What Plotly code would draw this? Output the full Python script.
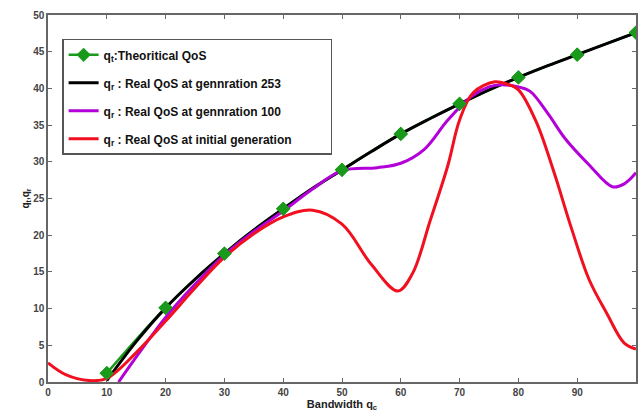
import plotly.graph_objects as go

# Theoretical QoS markers
theo_x = [10, 20, 30, 40, 50, 60, 70, 80, 90, 100]
theo_y = [1.2, 10.1, 17.5, 23.6, 28.9, 33.8, 37.9, 41.5, 44.6, 47.6]

# Real QoS at generation 253 (black)
g253_x = [10, 15, 20, 25, 30, 35, 40, 45, 50, 55, 60, 65, 70, 75, 80, 85, 90, 95, 100]
g253_y = [0.2, 5.5, 10.1, 14.0, 17.5, 20.7, 23.6, 26.4, 28.9, 31.4, 33.8, 35.9, 37.9, 39.8, 41.5, 43.1, 44.6, 46.1, 47.6]

# Real QoS at generation 100 (magenta)
g100_x = [12, 16, 20, 25, 30, 35, 40, 45, 50, 56, 60, 64, 68, 72, 75, 77, 80, 82, 85, 88, 92, 96, 98, 100]
g100_y = [0.0, 4.5, 8.8, 13.3, 17.3, 20.5, 23.3, 26.3, 28.8, 29.2, 29.8, 31.7, 35.7, 38.9, 40.2, 40.5, 40.2, 39.6, 36.6, 33.1, 29.6, 26.6, 27.0, 28.5]

# Real QoS at initial generation (red)
init_x = [0, 3, 7, 10, 15, 20, 25, 30, 35, 40, 45, 50, 55, 59.5, 62, 65, 68, 70, 72.3, 76, 78, 80, 83, 86, 89, 92, 95, 98, 100]
init_y = [2.6, 1.0, 0.2, 0.5, 4.0, 8.3, 12.8, 17.0, 20.2, 22.5, 23.4, 21.5, 16.0, 12.4, 14.8, 22.0, 29.5, 35.7, 39.4, 40.9, 40.6, 39.8, 35.5, 28.7, 21.0, 14.0, 9.4, 5.3, 4.5]

xticks = [0, 10, 20, 30, 40, 50, 60, 70, 80, 90, 100]
yticks = [0, 5, 10, 15, 20, 25, 30, 35, 40, 45, 50]

legend_names = [
    "<b>q<sub>t</sub>:Theoritical QoS</b>",
    "<b>q<sub>r</sub> : Real QoS at gennration 253</b>",
    "<b>q<sub>r</sub> : Real QoS at gennration 100</b>",
    "<b>q<sub>r</sub> : Real QoS at initial generation</b>" + "&nbsp;" * 10,
]

GREEN = "#1a9a1a"

fig = go.Figure()
fig.add_trace(go.Scatter(x=theo_x, y=theo_y, mode="lines+markers",
                         line=dict(color=GREEN, width=2.5, shape="spline"),
                         marker=dict(symbol="diamond", size=11, color=GREEN),
                         name=legend_names[0], legendrank=1, legendgroup="a"))
fig.add_trace(go.Scatter(x=g253_x, y=g253_y, mode="lines", line=dict(color="black", width=3, shape="spline"),
                         name=legend_names[1], legendrank=2, legendgroup="b"))
fig.add_trace(go.Scatter(x=g100_x, y=g100_y, mode="lines", line=dict(color="#b400d8", width=3, shape="spline"),
                         name=legend_names[2], legendrank=3, legendgroup="c"))
fig.add_trace(go.Scatter(x=init_x, y=init_y, mode="lines", line=dict(color="#f01020", width=3, shape="spline"),
                         name=legend_names[3], legendrank=4, legendgroup="d"))
fig.add_trace(go.Scatter(x=theo_x, y=theo_y, mode="markers",
                         marker=dict(symbol="diamond", size=11, color=GREEN),
                         showlegend=False, hoverinfo="skip"))

axis_common = dict(
    showline=True, linecolor="#666", linewidth=1.5, mirror="ticks",
    ticks="inside", ticklen=4, tickcolor="#666", showgrid=False, zeroline=False,
    automargin=False,
    tickfont=dict(family="Liberation Sans", size=10, color="#444", weight="bold"),
)

fig.update_layout(
    width=641, height=416,
    paper_bgcolor="white", plot_bgcolor="white",
    margin=dict(l=48, r=5, t=15, b=34),
    font=dict(family="Liberation Sans", color="#222"),
    xaxis=dict(range=[0, 100], tickvals=xticks,
               title=dict(text="<b>Bandwidth q<sub>c</sub></b>", font=dict(size=11), standoff=2),
               **axis_common),
    yaxis=dict(range=[0, 50], tickvals=yticks,
               title=dict(text="<b>q<sub>t</sub>,q<sub>r</sub></b>", font=dict(size=10), standoff=2),
               **axis_common),
    legend=dict(x=0.024, y=0.935, xanchor="left", yanchor="top",
                bgcolor="white", bordercolor="#555", borderwidth=1.5,
                font=dict(family="Liberation Sans", size=12, color="#111"),
                traceorder="grouped", tracegroupgap=9),
    showlegend=True,
)

fig.write_html("out.html", config={"displayModeBar": False},
               post_script="document.body.style.margin='0';document.body.style.overflow='hidden';")
